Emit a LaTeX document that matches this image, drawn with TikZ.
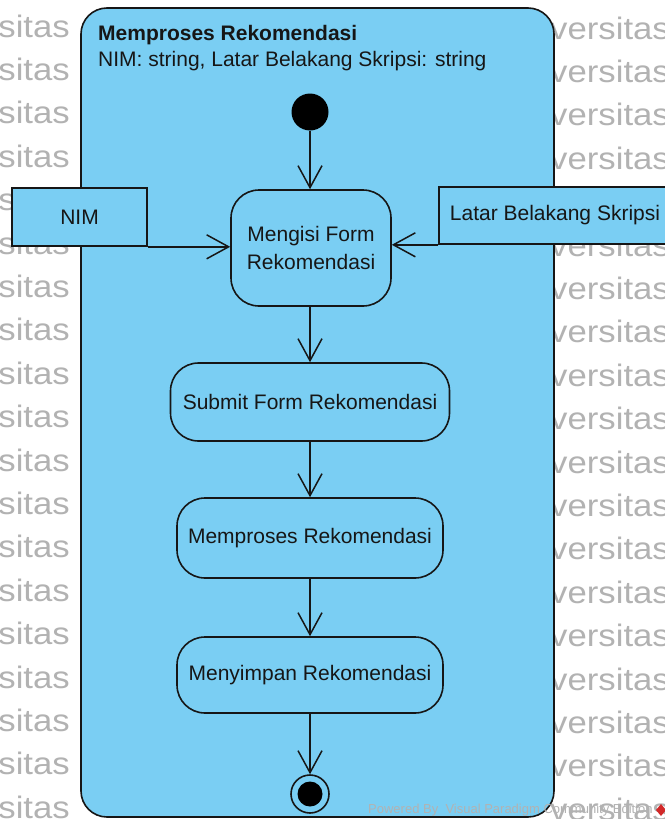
\documentclass[tikz,border=0pt]{standalone}
\usepackage{fontspec}
\setmainfont{Liberation Sans}
\newfontfamily\wmfont[FakeStretch=1.12]{Liberation Sans}
\usetikzlibrary{arrows.meta}
\definecolor{actblue}{RGB}{122,206,243}
\definecolor{wmgray}{RGB}{178,178,178}
\definecolor{edgecol}{RGB}{22,22,22}
\definecolor{vpred}{RGB}{210,40,40}
\begin{document}
\begin{tikzpicture}[x=1pt,y=-1pt,
  every node/.style={font=\fontsize{21}{28}\selectfont, inner sep=0pt, text=edgecol},
  action/.style={draw=edgecol, line width=1.6pt, fill=actblue, rounded corners=28pt, align=center},
  objnode/.style={draw=edgecol, line width=1.6pt, fill=actblue},
  flow/.style={draw=edgecol, line width=1.5pt, -{Straight Barb[length=22pt,width=24pt,line width=1.5pt]}},
  wmtext/.style={text=wmgray, font=\wmfont\fontsize{31}{31}\selectfont}
]
\useasboundingbox (0,0) rectangle (664,819);
\fill[white] (0,0) rectangle (664,819);
% watermark
\foreach \k in {0,...,18}{
  \node[wmtext, anchor=base east] (wl\k) at (70,{37+43.4*\k}) {sitas};
  \node[wmtext, anchor=base west] (wr\k) at (550,{39+43.4*\k}) {versitas};
}
% activity frame
\node[draw=edgecol, line width=1.6pt, fill=actblue, rounded corners=26pt,
      minimum width=473pt, minimum height=809pt] (frame) at (317.5,412.5) {};
\node[anchor=base west, font=\bfseries\fontsize{21}{28}\selectfont] (title) at (98,40) {Memproses Rekomendasi};
\node[anchor=base west] (params) at (98,66) {NIM: string, Latar Belakang Skripsi: string};
% nodes
\node[circle, fill=black, minimum size=37pt] (init) at (310,112) {};
\node[action, minimum width=160pt, minimum height=116pt] (a1) at (311,248) {Mengisi Form\\Rekomendasi};
\node[objnode, minimum width=135pt, minimum height=58pt] (nim) at (79.5,217) {NIM};
\node[objnode, minimum width=232pt, minimum height=57pt] (latar) at (555,215.5) {Latar Belakang Skripsi};
\node[action, minimum width=279pt, minimum height=78pt] (a2) at (310,402) {Submit Form Rekomendasi};
\node[action, minimum width=266pt, minimum height=80pt] (a3) at (310,538) {Memproses Rekomendasi};
\node[action, minimum width=266pt, minimum height=76pt] (a4) at (310,675) {Menyimpan Rekomendasi};
\node[circle, draw=edgecol, line width=1.6pt, fill=actblue, minimum size=38pt] (fin) at (310,794) {};
\node[circle, fill=black, minimum size=25pt] (finin) at (fin) {};
% connectors
\draw[flow] (init) -- (init |- a1.north);
\draw[flow] (a1.south -| a2.north) -- (a2.north);
\draw[flow] (a2) -- (a3);
\draw[flow] (a3) -- (a4);
\draw[flow] (a4) -- (fin);
\draw[flow] (nim.south east) -- (a1.west |- nim.south east);
\draw[flow] (latar.south west) -- (a1.east |- latar.south west);
% footer
\node[anchor=base west, text=wmgray, font=\fontsize{13}{13}\selectfont] (pw) at (368,813) {Powered By\ \ Visual Paradigm Community Edition};
\fill[vpred] (656,810) -- (661,804) -- (666,810) -- (661,816) -- cycle;
\end{tikzpicture}
\end{document}
